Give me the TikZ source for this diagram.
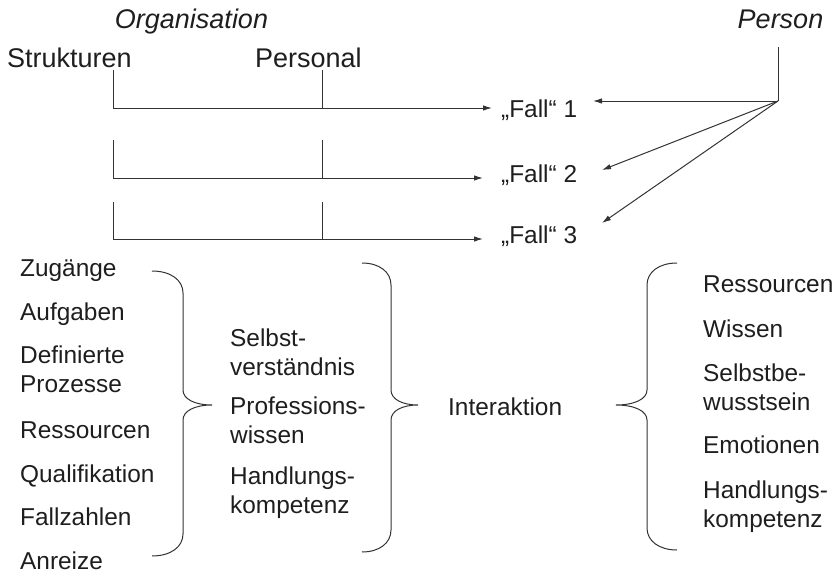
\documentclass[tikz,border=0pt]{standalone}
\usepackage{fontspec}
\setmainfont{Liberation Sans}
\usetikzlibrary{arrows.meta}
\definecolor{txtc}{HTML}{1E1E1E}
\definecolor{linec}{HTML}{333333}
\newcommand{\mybrace}[6]{% x0,y0,x1,x2,ym,y1
  \draw[ln] (#1,#2) .. controls ({#1+0.6*(#3-#1)},#2) and (#3,{#2+9}) .. (#3,{#2+22})
    -- (#3,{#5-15}) .. controls (#3,{#5-6}) and ({#3+0.4*(#4-#3)},#5) .. (#4,#5)
    .. controls ({#3+0.4*(#4-#3)},#5) and (#3,{#5+6}) .. (#3,{#5+15})
    -- (#3,{#6-22}) .. controls (#3,{#6-9}) and ({#1+0.6*(#3-#1)},#6) .. (#1,#6);}
\begin{document}
\begin{tikzpicture}[x=1pt,y=-1pt,
  txt/.style={inner sep=0pt, anchor=base west, text=txtc, font=\fontsize{24.4}{29}\selectfont},
  head/.style={inner sep=0pt, anchor=base, text=txtc, font=\fontsize{27}{32}\selectfont},
  headit/.style={head, font=\fontsize{27}{32}\selectfont\itshape},
  ln/.style={draw=linec, line width=1pt},
  arr/.style={ln, -{Latex[length=9pt,width=5.5pt]}}]
\useasboundingbox (0,0) rectangle (839,573);
% headers
\node[headit] (org) at (191.5,28) {Organisation};
\node[headit] (per) at (780.5,28) {Person};
\node[head, anchor=base west] (str) at (7,67.5) {Strukturen};
\node[head, anchor=base west] (pers) at (255,67.5) {Personal};
% Fall labels
\node[txt] (f1) at (501,117.5) {„Fall“ 1};
\node[txt] (f2) at (501,182) {„Fall“ 2};
\node[txt] (f3) at (501,243) {„Fall“ 3};
% organisation lines
\coordinate (a1) at (113,70);  \coordinate (a1b) at (113,108);
\coordinate (b1) at (322,70);  \coordinate (b1b) at (322,108);
\coordinate (t1) at (492,108);
\coordinate (a2) at (113,140); \coordinate (a2b) at (113,178);
\coordinate (b2) at (322,140); \coordinate (b2b) at (322,178);
\coordinate (t2) at (483,178);
\coordinate (a3) at (113,202); \coordinate (a3b) at (113,239);
\coordinate (b3) at (322,202); \coordinate (b3b) at (322,239);
\coordinate (t3) at (483,239);
\draw[arr] (a1) -- (a1b) -- (t1);
\draw[ln] (b1) -- (b1b);
\draw[arr] (a2) -- (a2b) -- (t2);
\draw[ln] (b2) -- (b2b);
\draw[arr] (a3) -- (a3b) -- (t3);
\draw[ln] (b3) -- (b3b);
% person lines
\coordinate (pt) at (778,47);
\coordinate (pj) at (778,101);
\coordinate (p1) at (593,101);
\coordinate (p2) at (602,170);
\coordinate (p3) at (602,223);
\draw[ln] (pt) -- (pj);
\draw[arr] (pj) -- (p1);
\draw[arr] (pj) -- (p2);
\draw[arr] (pj) -- (p3);
% left list
\node[txt] (l1) at (20,276) {Zugänge};
\node[txt] (l2) at (20,320) {Aufgaben};
\node[txt] (l3) at (20,363) {\begin{tabular}[t]{@{}l@{}}Definierte\\Prozesse\end{tabular}};
\node[txt] (l4) at (20,438) {Ressourcen};
\node[txt] (l5) at (20,482) {Qualifikation};
\node[txt] (l6) at (20,525) {Fallzahlen};
\node[txt] (l7) at (20,569) {Anreize};
% middle list
\node[txt] (m1) at (230,346) {\begin{tabular}[t]{@{}l@{}}Selbst-\\verständnis\end{tabular}};
\node[txt] (m2) at (230,414) {\begin{tabular}[t]{@{}l@{}}Professions-\\wissen\end{tabular}};
\node[txt] (m3) at (230,484) {\begin{tabular}[t]{@{}l@{}}Handlungs-\\kompetenz\end{tabular}};
% interaction
\node[txt] (ia) at (448,415) {Interaktion};
% right list
\node[txt] (r1) at (703,292) {Ressourcen};
\node[txt] (r2) at (703,337) {Wissen};
\node[txt] (r3) at (703,381) {\begin{tabular}[t]{@{}l@{}}Selbstbe-\\wusstsein\end{tabular}};
\node[txt] (r4) at (703,453) {Emotionen};
\node[txt] (r5) at (703,498) {\begin{tabular}[t]{@{}l@{}}Handlungs-\\kompetenz\end{tabular}};
% braces
\mybrace{152}{271}{183}{212}{405}{556}
\mybrace{362}{263}{391}{418}{405}{552}
\mybrace{677}{263}{647}{616}{405}{550}
\end{tikzpicture}
\end{document}
